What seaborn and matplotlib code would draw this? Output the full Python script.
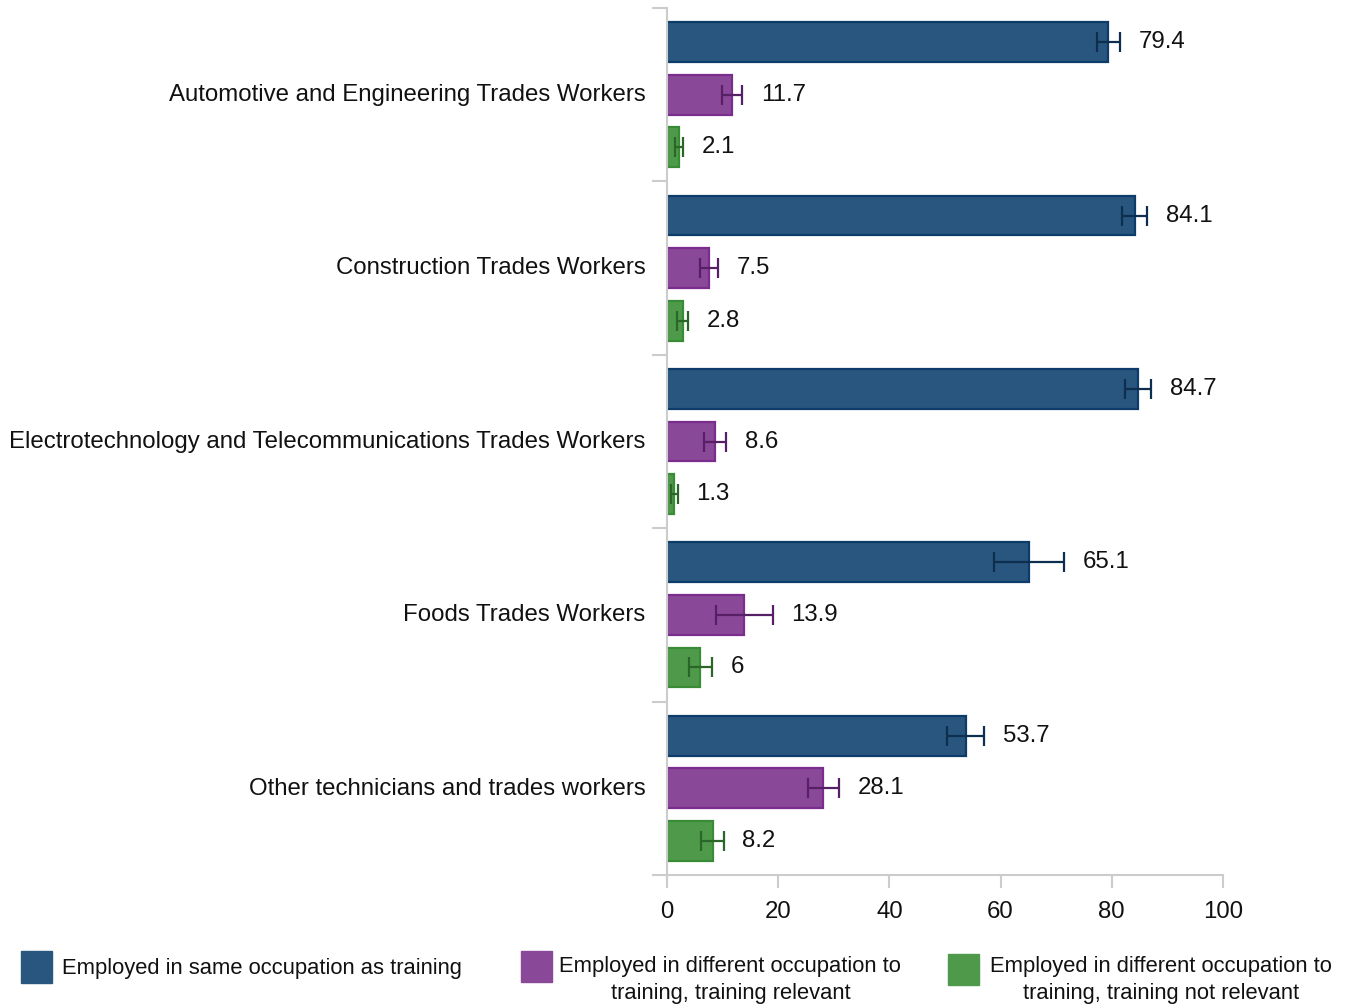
import matplotlib
matplotlib.use("Agg")
import matplotlib.pyplot as plt
import matplotlib.transforms as mtransforms
import seaborn as sns
import pandas as pd
from matplotlib.patches import Patch, Rectangle
from matplotlib.legend_handler import HandlerPatch

categories = [
    "Automotive and Engineering Trades Workers",
    "Construction Trades Workers",
    "Electrotechnology and Telecommunications Trades Workers",
    "Foods Trades Workers",
    "Other technicians and trades workers",
]
series_names = [
    "Employed in same occupation as training",
    "Employed in different occupation to\ntraining, training relevant",
    "Employed in different occupation to\ntraining, training not relevant",
]
same_occupation = [79.4, 84.1, 84.7, 65.1, 53.7]
diff_relevant = [11.7, 7.5, 8.6, 13.9, 28.1]
diff_not_relevant = [2.1, 2.8, 1.3, 6.0, 8.2]
err_same = [2.1, 2.2, 2.4, 6.3, 3.4]
err_relevant = [1.8, 1.6, 2.0, 5.1, 2.8]
err_not_relevant = [0.7, 1.0, 0.6, 2.1, 2.0]
value_labels = [
    ["79.4", "84.1", "84.7", "65.1", "53.7"],
    ["11.7", "7.5", "8.6", "13.9", "28.1"],
    ["2.1", "2.8", "1.3", "6", "8.2"],
]
x_ticks = [0, 20, 40, 60, 80, 100]

fill_colors = ["#29567f", "#8a4899", "#4e9a4a"]
edge_colors = ["#0d3b6a", "#7a2d8c", "#3a8b36"]
err_colors = ["#0e2e4f", "#561f66", "#2a6627"]

values = [same_occupation, diff_relevant, diff_not_relevant]
errors = [err_same, err_relevant, err_not_relevant]

rows = []
for s, vals in zip(series_names, values):
    for c, v in zip(categories, vals):
        rows.append({"category": c, "series": s, "value": v})
df = pd.DataFrame(rows)

sns.set_theme(style="white")
plt.rcParams["font.family"] = ["Liberation Sans", "DejaVu Sans"]

fig = plt.figure(figsize=(13.47, 10.05), dpi=100)
ax = fig.add_axes([667 / 1347, 1 - 875 / 1005, (1223 - 667) / 1347, (875 - 8) / 1005])

sns.barplot(data=df, y="category", x="value", hue="series", order=categories,
            hue_order=series_names, palette=fill_colors, orient="h", saturation=1,
            errorbar=None, width=0.91, gap=0.24, ax=ax, legend=False)

bar_containers = list(ax.containers)
for i, cont in enumerate(bar_containers):
    ys, xs = [], []
    for bar in cont.patches:
        bar.set_edgecolor(edge_colors[i])
        bar.set_linewidth(1.6)
        ys.append(bar.get_y() + bar.get_height() / 2)
        xs.append(bar.get_width())
    ax.errorbar(xs, ys, xerr=errors[i], fmt="none", ecolor=err_colors[i],
                elinewidth=1.6, capsize=7.5, capthick=1.6, zorder=5)
    for x, y, e, lab in zip(xs, ys, errors[i], value_labels[i]):
        ax.annotate(lab, xy=(x + e, y), xytext=(13.5, 0), textcoords="offset points",
                    va="center", ha="left", fontsize=17.3, color="#111111")

ax.set_xlim(0, 100)
ax.set_ylim(len(categories) - 0.5, -0.5)
ax.set_xticks(x_ticks)
ax.set_xticklabels([str(t) for t in x_ticks], fontsize=17.3, color="#111111")
ax.set_yticks(range(len(categories)))
ax.set_yticklabels(categories, fontsize=17.3, color="#111111")
ax.set_yticks([i - 0.5 for i in range(len(categories) + 1)], minor=True)
ax.tick_params(axis="y", which="major", length=0, pad=15.5)
ax.tick_params(axis="y", which="minor", length=11, color="#cccccc", width=1.5, left=True)
ax.tick_params(axis="x", which="major", length=9, color="#cccccc", width=1.5, bottom=True, pad=9.5)
ax.set_xlabel("")
ax.set_ylabel("")
shift_up = mtransforms.ScaledTranslation(0, 1.6 / 72, fig.dpi_scale_trans)
for lab in ax.get_yticklabels():
    lab.set_transform(lab.get_transform() + shift_up)
for side in ["top", "right"]:
    ax.spines[side].set_visible(False)
for side in ["left", "bottom"]:
    ax.spines[side].set_color("#cccccc")
    ax.spines[side].set_linewidth(1.5)
ax.grid(False)


def make_handler(dy):
    def patch_func(legend, orig_handle, xdescent, ydescent, width, height, fontsize):
        return Rectangle((-xdescent, -ydescent + dy), width, height)
    return HandlerPatch(patch_func=patch_func)


legend_y = [967, 980, 980]
legend_x = [21, 521, 948]
handle_dy = [0, 10.5, 8.5]
text_pad = [0.45, 0.35, 0.5]
for i in range(3):
    h = Patch(facecolor=fill_colors[i], edgecolor=fill_colors[i])
    leg = fig.legend([h], [series_names[i]], loc="center left",
                     bbox_to_anchor=(legend_x[i] / 1347, 1 - legend_y[i] / 1005),
                     frameon=False, fontsize=15.8, handlelength=1.4, handleheight=1.8,
                     handletextpad=text_pad[i], borderpad=0, borderaxespad=0,
                     handler_map={Patch: make_handler(handle_dy[i])})
    for t in leg.get_texts():
        t.set_multialignment("center")
        t.set_linespacing(1.33)
        t.set_color("#111111")

fig.savefig("out.png", dpi=100)
